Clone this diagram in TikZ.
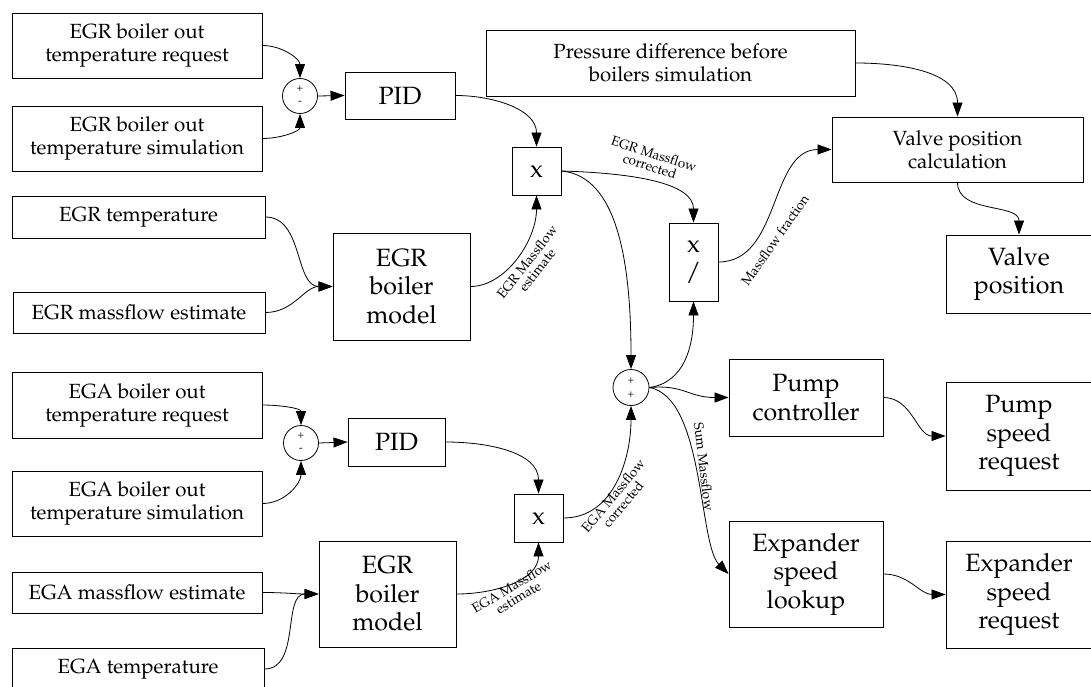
\documentclass[tikz,border=0pt]{standalone}
\usepackage[T1]{fontenc}
\usepackage{mathpazo}
\usetikzlibrary{arrows.meta}
\begin{document}
\begin{tikzpicture}[x=1pt,y=1pt,
  box/.style={draw, line width=0.9pt, align=center, inner sep=0pt, font=\fontsize{20.5}{23}\selectfont},
  bigbox/.style={box, font=\fontsize{25}{28.5}\selectfont},
  arr/.style={-{Triangle[length=14pt,width=10pt]}, line width=0.8pt},
  lab/.style={font=\fontsize{13.5}{13}\selectfont, align=center, inner sep=0pt},
  sumn/.style={draw, circle, minimum size=35pt, inner sep=0pt, line width=0.8pt},
  sign/.style={font=\fontsize{11}{11}\selectfont, inner sep=0pt}]
\useasboundingbox (0,0) rectangle (1091,-687);
% EGR branch
\node[box, minimum width=250, minimum height=65] (egrreq) at (137,-45.5) {EGR boiler out\\temperature request};
\node[box, minimum width=250, minimum height=65] (egrsim) at (137,-138.5) {EGR boiler out\\temperature simulation};
\node[sumn] (sum1) at (300,-96) {};
\node[sign] (s1p) at ([yshift=7pt]sum1.center) {+};
\node[sign] (s1m) at ([yshift=-7pt]sum1.center) {-};
\node[bigbox, minimum width=110, minimum height=47] (pid1) at (400,-95.5) {PID};
\node[bigbox, minimum width=49, minimum height=48] (x1) at (536.5,-171) {x};
\node[box, minimum width=253, minimum height=42] (egrtemp) at (138.5,-217) {EGR temperature};
\node[box, minimum width=252, minimum height=41] (egrmf) at (139,-312.5) {EGR massflow estimate};
\node[bigbox, minimum width=137, minimum height=107] (egrmodel) at (401.5,-286.5) {EGR\\boiler\\model};
% right top
\node[box, minimum width=369, minimum height=66] (press) at (670.5,-63) {Pressure difference before\\boilers simulation};
\node[box, minimum width=251, minimum height=65] (valvecalc) at (957.5,-149.5) {Valve position\\calculation};
\node[bigbox, minimum width=146, minimum height=78] (valvepos) at (1019,-274) {Valve\\position};
\node[bigbox, minimum width=49, minimum height=78] (xdiv) at (693.5,-262) {x\\/};
\node[sumn, minimum size=36pt] (sum2) at (631,-387.5) {};
\node[sign] (s2a) at ([yshift=7pt]sum2.center) {+};
\node[sign] (s2b) at ([yshift=-7pt]sum2.center) {+};
\node[bigbox, minimum width=154, minimum height=77] (pumpc) at (806,-397.5) {Pump\\controller};
\node[bigbox, minimum width=146, minimum height=108] (pumpreq) at (1019,-436) {Pump\\speed\\request};
\node[bigbox, minimum width=154, minimum height=106] (explook) at (806,-574) {Expander\\speed\\lookup};
\node[bigbox, minimum width=146, minimum height=107] (expreq) at (1019,-594.5) {Expander\\speed\\request};
% EGA branch
\node[box, minimum width=250, minimum height=66] (egareq) at (137,-405) {EGA boiler out\\temperature request};
\node[box, minimum width=250, minimum height=65] (egasim) at (137,-503.5) {EGA boiler out\\temperature simulation};
\node[sumn] (sum3) at (301,-443) {};
\node[sign] (s3p) at ([yshift=7pt]sum3.center) {+};
\node[sign] (s3m) at ([yshift=-7pt]sum3.center) {-};
\node[bigbox, minimum width=97, minimum height=48] (pid2) at (396.5,-442) {PID};
\node[bigbox, minimum width=49, minimum height=48] (x2) at (538.5,-518) {x};
\node[bigbox, minimum width=137, minimum height=106] (egamodel) at (387.5,-594) {EGR\\boiler\\model};
\node[box, minimum width=250, minimum height=41] (egamf) at (137,-592.5) {EGA massflow estimate};
\node[box, minimum width=252, minimum height=42] (egatemp) at (138,-669) {EGA temperature};
% labels
\node[lab, rotate=52] (l1) at (532,-266) {EGR Massflow\\estimate};
\node[lab, rotate=-18] (l2) at (652,-160) {EGR Massflow\\corrected};
\node[lab, rotate=50] (l3) at (618,-500) {EGA Massflow\\corrected};
\node[lab, rotate=31] (l4) at (515,-592) {EGA Massflow\\estimate};
\node[lab, rotate=55] (l5) at (775,-240) {Massflow fraction};
\node[lab, rotate=-83] (l6) at (704,-467) {Sum Massflow};
% connectors
\draw[arr] (egrreq.east) to[out=0,in=90] (sum1.north);
\draw[arr] (egrsim.east) to[out=0,in=-90] (sum1.south);
\draw[arr] (sum1.east) -- (pid1.west);
\draw[arr] (pid1.east) to[out=0,in=90] (x1.north);
\draw[arr] (egrmodel.east) .. controls +(35,0) and +(0,-45) .. (x1.south);
\draw[arr] (egrtemp.east) to[out=0,in=180] (egrmodel.west);
\draw[arr] (egrmf.east) to[out=0,in=180] (egrmodel.west);
\draw[arr] (x1.east) .. controls +(70,-2) and +(0,40) .. (xdiv.north);
\draw[arr] (x1.east) .. controls +(55,-5) and +(0,110) .. (sum2.north);
\draw[arr] (sum2.east) .. controls +(35,5) and +(0,-45) .. (xdiv.south);
\draw[arr] (sum2.east) .. controls +(35,3) and +(-40,0) .. (pumpc.west);
\draw[arr] (sum2.east) .. controls +(55,-10) and +(-30,30) .. (explook.west);
\draw[arr] (xdiv.east) to[out=0,in=180] (valvecalc.west);
\draw[arr] (press.east) to[out=0,in=90] (valvecalc.north);
\draw[arr] (valvecalc.south) to[out=-90,in=90] (valvepos.north);
\draw[arr] (pumpc.east) to[out=0,in=180] (pumpreq.west);
\draw[arr] (explook.east) to[out=0,in=180] (expreq.west);
\draw[arr] (egareq.east) to[out=0,in=90] (sum3.north);
\draw[arr] (egasim.east) to[out=0,in=-90] (sum3.south);
\draw[arr] (sum3.east) -- (pid2.west);
\draw[arr] (pid2.east) to[out=0,in=90] (x2.north);
\draw[arr] (egamodel.east) to[out=0,in=-90] (x2.south);
\draw[arr] (x2.east) to[out=0,in=-90] (sum2.south);
\draw[arr] (egamf.east) to[out=0,in=180] (egamodel.west);
\draw[arr] (egatemp.east) to[out=0,in=180] (egamodel.west);
\end{tikzpicture}
\end{document}
